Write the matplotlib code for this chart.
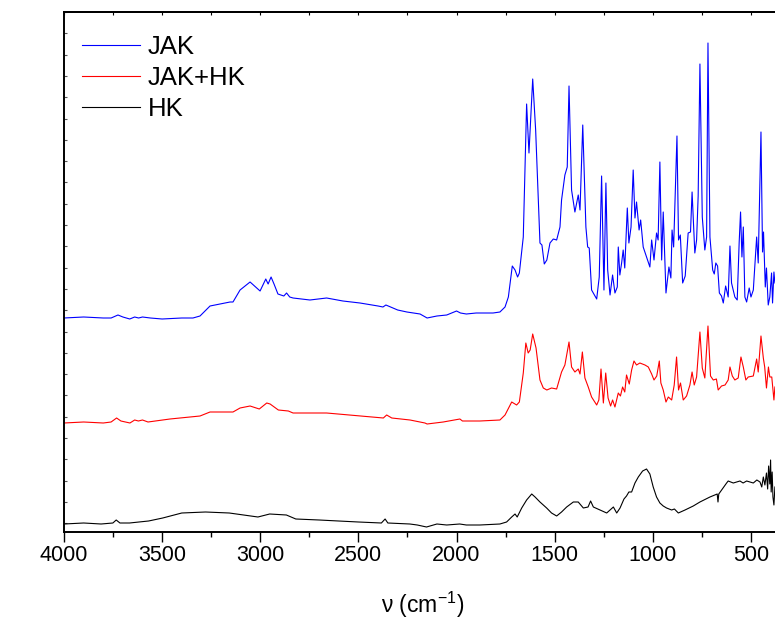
import numpy as np
import matplotlib
matplotlib.use("Agg")
import matplotlib.pyplot as plt
from matplotlib.ticker import MultipleLocator

plt.rcParams['font.family'] = ['Liberation Sans', 'DejaVu Sans']

# JAK (blue)
jak_wn = [4000, 3900, 3800, 3760, 3725, 3700, 3665, 3640, 3620, 3600,
          3560, 3500, 3400, 3343, 3307, 3256, 3205, 3154, 3139, 3103,
          3052, 3001, 2972, 2960, 2945, 2930, 2910, 2880, 2866, 2850,
          2833, 2747, 2662, 2579, 2492, 2400, 2375, 2360, 2300, 2253,
          2186, 2150, 2100, 2050, 2000, 1980, 1950, 1900, 1881, 1814,
          1779, 1753, 1736, 1716, 1702, 1689, 1680, 1660, 1643, 1631,
          1612, 1597, 1575, 1565, 1553, 1540, 1524, 1507, 1490, 1473,
          1465, 1448, 1436, 1427, 1414, 1397, 1380, 1371, 1357, 1341,
          1332, 1324, 1312, 1286, 1273, 1261, 1249, 1239, 1230, 1218,
          1205, 1193, 1181, 1176, 1168, 1159, 1151, 1143, 1130, 1122,
          1111, 1100, 1091, 1083, 1070, 1062, 1049, 1032, 1015, 1006,
          994, 981, 973, 964, 955, 947, 933, 918, 908, 902,
          894, 877, 869, 860, 848, 835, 820, 808, 800, 786,
          777, 769, 760, 748, 735, 726, 719, 709, 695, 687,
          679, 670, 661, 650, 641, 629, 616, 607, 599, 582,
          570, 560, 553, 546, 539, 531, 522, 509, 500, 488,
          471, 463, 449, 441, 436, 427, 421, 412, 404, 395,
          390, 383, 378]
jak_val = [214, 215, 214, 214, 217, 215, 213, 215, 214, 215,
           214, 213, 214, 214, 216, 226, 228, 230, 230, 242,
           250, 241, 253, 248, 255, 248, 238, 236, 239, 235,
           234, 232, 234, 231, 229, 226, 225, 227, 222, 220,
           218, 214, 216, 217, 221, 219, 218, 219, 219, 219,
           220, 225, 235, 266, 262, 255, 259, 295, 428, 379,
           453, 402, 289, 287, 268, 272, 289, 293, 292, 305,
           332, 357, 365, 446, 342, 320, 337, 322, 407, 305,
           285, 284, 242, 233, 255, 356, 242, 349, 262, 237,
           257, 239, 245, 285, 257, 269, 282, 264, 324, 289,
           305, 362, 314, 330, 302, 312, 285, 275, 265, 292,
           272, 299, 292, 370, 272, 320, 239, 265, 254, 302,
           285, 396, 292, 297, 249, 256, 299, 300, 340, 279,
           292, 336, 468, 315, 282, 295, 489, 295, 262, 258,
           269, 266, 239, 236, 229, 246, 235, 286, 249, 235,
           232, 290, 320, 275, 305, 235, 230, 244, 235, 242,
           295, 269, 400, 280, 300, 245, 264, 227, 235, 259,
           229, 260, 249]

# JAK+HK (red)
mix_wn = [4000, 3900, 3800, 3760, 3732, 3710, 3664, 3640, 3621, 3600,
          3572, 3460, 3307, 3256, 3139, 3103, 3052, 3005, 2967, 2950,
          2908, 2857, 2833, 2662, 2492, 2373, 2356, 2330, 2237, 2161,
          2150, 2068, 1983, 1970, 1881, 1779, 1753, 1719, 1694, 1680,
          1660, 1647, 1635, 1625, 1612, 1595, 1575, 1558, 1540, 1516,
          1490, 1465, 1448, 1427, 1414, 1397, 1380, 1371, 1359, 1346,
          1329, 1312, 1286, 1275, 1264, 1252, 1240, 1228, 1215, 1205,
          1193, 1176, 1165, 1154, 1143, 1134, 1120, 1108, 1096, 1083,
          1066, 1040, 1023, 1006, 994, 980, 967, 959, 947, 933,
          921, 904, 891, 879, 869, 859, 845, 828, 811, 800,
          789, 777, 760, 748, 735, 719, 706, 692, 676, 667,
          650, 632, 616, 607, 595, 582, 565, 551, 539, 526,
          514, 488, 471, 463, 449, 437, 430, 421, 411, 404,
          394, 383, 378]
mix_val = [109, 110, 109, 110, 114, 111, 109, 112, 111, 112,
           110, 113, 116, 120, 120, 124, 126, 123, 129, 128,
           122, 121, 119, 119, 116, 114, 117, 114, 112, 109,
           108, 110, 113, 111, 111, 112, 117, 130, 127, 130,
           159, 189, 179, 182, 198, 184, 152, 144, 142, 144,
           143, 160, 167, 190, 165, 160, 163, 158, 180, 154,
           145, 135, 127, 132, 163, 129, 159, 134, 126, 132,
           125, 139, 136, 145, 140, 157, 148, 162, 171, 167,
           169, 167, 165, 158, 152, 156, 171, 149, 142, 130,
           135, 132, 147, 175, 142, 149, 132, 136, 147, 160,
           147, 155, 200, 164, 154, 206, 156, 152, 153, 142,
           146, 147, 152, 165, 156, 152, 154, 175, 165, 152,
           155, 156, 173, 160, 196, 174, 165, 144, 165, 155,
           155, 132, 145]

# HK (black)
hk_wn = [4000, 3900, 3811, 3751, 3734, 3715, 3666, 3618, 3569, 3497,
         3400, 3279, 3158, 3012, 2952, 2867, 2819, 2700, 2601, 2500,
         2383, 2364, 2350, 2238, 2200, 2153, 2100, 2050, 1984, 1950,
         1881, 1779, 1745, 1719, 1702, 1691, 1668, 1643, 1617, 1600,
         1575, 1541, 1516, 1490, 1465, 1439, 1405, 1380, 1354, 1330,
         1317, 1303, 1269, 1235, 1218, 1201, 1184, 1167, 1147, 1134,
         1122, 1108, 1091, 1074, 1052, 1032, 1015, 998, 981, 964,
         947, 930, 904, 890, 870, 836, 794, 760, 709, 672,
         668, 664, 624, 616, 590, 556, 540, 522, 505, 488,
         470, 454, 445, 437, 429, 421, 415, 410, 404, 400,
         397, 392, 388, 383, 378]
hk_val = [8, 9, 8, 9, 12, 9, 9, 10, 11, 14,
          19, 20, 19, 15, 18, 17, 13, 12, 11, 10,
          9, 13, 9, 8, 7, 5, 8, 7, 8, 7,
          7, 8, 10, 15, 18, 15, 24, 32, 38, 35,
          30, 24, 19, 16, 20, 25, 30, 30, 24, 25,
          31, 25, 22, 19, 22, 25, 19, 24, 33, 36,
          40, 40, 49, 55, 61, 63, 58, 45, 35, 29,
          26, 24, 22, 23, 19, 22, 26, 30, 35, 38,
          30, 38, 49, 51, 49, 51, 49, 51, 50, 49,
          52, 50, 45, 55, 47, 59, 43, 66, 48, 72,
          40, 60, 35, 27, 45]

fig = plt.figure(figsize=(7.75, 6.19), dpi=100)
# axes run a little past the right edge, like the cropped original
ax = fig.add_axes([64 / 775, 87 / 619, 716.4 / 775, 520 / 619])

ax.plot(jak_wn, jak_val, color='#0000ff', lw=0.8, label='JAK')
ax.plot(mix_wn, mix_val, color='#ff0000', lw=0.8, label='JAK+HK')
ax.plot(hk_wn, hk_val, color='black', lw=0.8, label='HK')

ax.set_xlim(4000, 350)
ax.set_ylim(0, 520)

ax.xaxis.set_major_locator(MultipleLocator(500))
ax.xaxis.set_minor_locator(MultipleLocator(250))
ax.tick_params(axis='x', which='major', direction='out', length=7.2, width=1.0,
               labelsize=15.5, pad=2)
ax.tick_params(axis='x', which='minor', direction='out', length=3.6, width=1.0)

ax.set_yticks(np.arange(520, 0, -21.3))
ax.set_yticklabels([])
ax.tick_params(axis='y', direction='in', length=2.5, width=0.8, color='#555555')

top = ax.secondary_xaxis('top')
top.xaxis.set_major_locator(MultipleLocator(500))
top.xaxis.set_minor_locator(MultipleLocator(250))
top.tick_params(which='both', direction='in', length=2.2, width=0.8, labeltop=False)

for s in ax.spines.values():
    s.set_linewidth(1.4)
top.spines['top'].set_linewidth(1.4)

ax.set_xlabel(r'ν (cm$^{\mathregular{-1}}$)', fontsize=16.5, labelpad=17)

ax.legend(loc='upper left', bbox_to_anchor=(0.025, 0.955), frameon=False,
          fontsize=18.5, handlelength=2.25, handletextpad=0.31,
          labelspacing=0.27, borderpad=0, borderaxespad=0)

fig.savefig('out.png', dpi=100)
